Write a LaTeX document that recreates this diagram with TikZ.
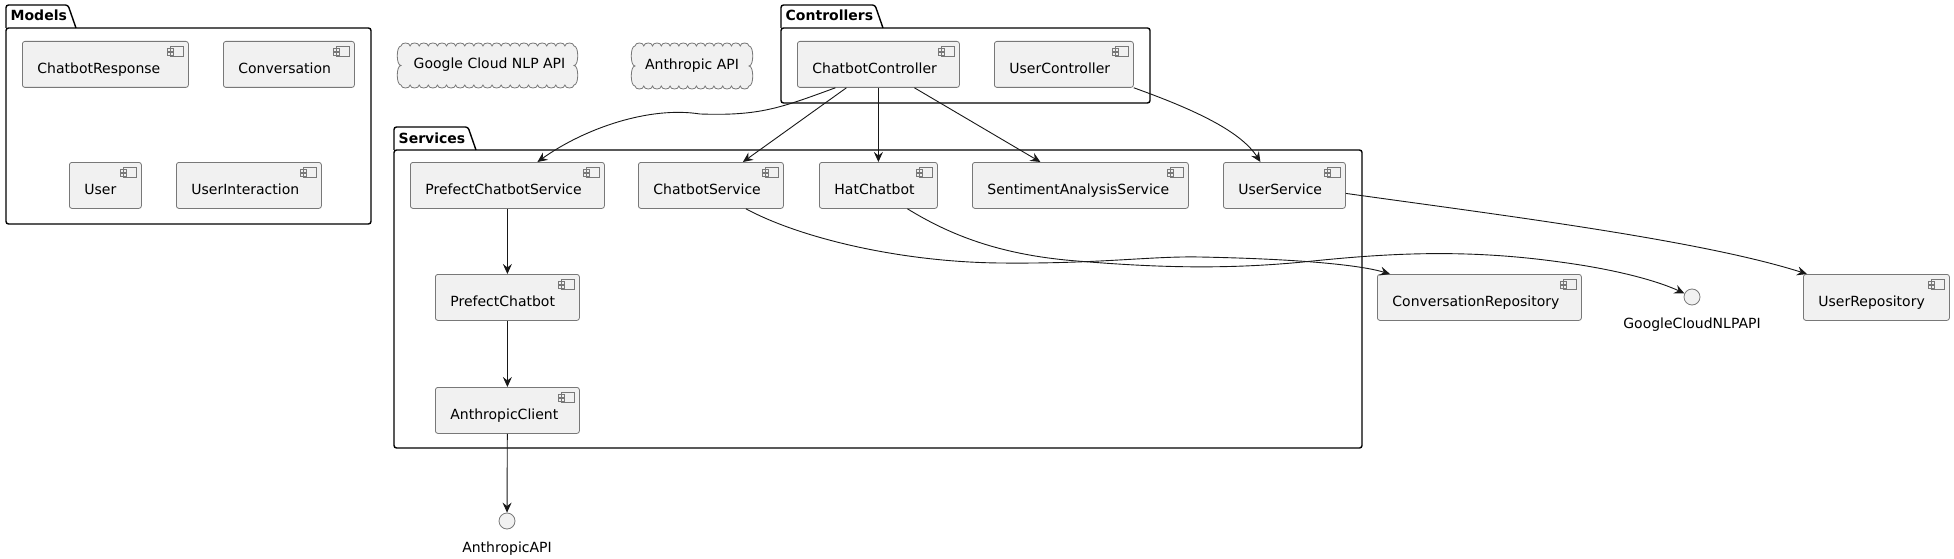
\documentclass[tikz,border=0pt]{standalone}
\usepackage{fontspec}
\setmainfont{DejaVu Sans}
\usetikzlibrary{arrows.meta}
\definecolor{compfill}{RGB}{241,241,241}
\definecolor{compline}{RGB}{120,120,120}
\definecolor{edgeline}{RGB}{24,24,24}

% scalloped cloud outline: x0 y0 x1 y1 bumps
\newcommand{\cloudoutline}[5]{%
  \pgfmathsetmacro\cw{(#3-#1)/#5}%
  \pgfmathsetmacro\ch{(#4-#2)/2}%
  \filldraw[draw=compline, fill=compfill, line width=0.8pt] (#1,#2)
    \foreach \i [evaluate=\i as \xa using #1+(\i-1)*\cw, evaluate=\i as \xb using #1+\i*\cw] in {1,...,#5}
      { .. controls (\xa,#2-4) and (\xb,#2-4) .. (\xb,#2) }
    .. controls (#3+5,#2) and (#3+5,#2+\ch) .. (#3,#2+\ch)
    .. controls (#3+5,#2+\ch) and (#3+5,#4) .. (#3,#4)
    \foreach \i [evaluate=\i as \xa using #3-(\i-1)*\cw, evaluate=\i as \xb using #3-\i*\cw] in {1,...,#5}
      { .. controls (\xa,#4+4) and (\xb,#4+4) .. (\xb,#4) }
    .. controls (#1-5,#4) and (#1-5,#2+\ch) .. (#1,#2+\ch)
    .. controls (#1-5,#2+\ch) and (#1-5,#2) .. (#1,#2) -- cycle;
}

\begin{document}
\begin{tikzpicture}[x=1pt, y=-1pt,
  comp/.style={draw=compline, fill=compfill, rounded corners=2.5pt, line width=0.8pt,
    anchor=north west, minimum height=46pt, inner xsep=15pt, inner ysep=0pt,
    align=left, text height=19pt, text depth=0pt, font=\fontsize{14}{17}\selectfont,
    path picture={
      \draw[compline, line width=0.7pt, sharp corners, fill=compfill]
        ([xshift=-18pt,yshift=-5pt]path picture bounding box.north east) rectangle ++(13pt,-10pt)
        ([xshift=-21pt,yshift=-7pt]path picture bounding box.north east) rectangle ++(6pt,-2.5pt)
        ([xshift=-21pt,yshift=-11pt]path picture bounding box.north east) rectangle ++(6pt,-2.5pt);
    }},
  cloudtext/.style={inner sep=0pt, text height=10pt, text depth=3pt, font=\fontsize{14}{17}\selectfont},
  iface/.style={circle, draw=compline, fill=compfill, line width=0.8pt, minimum size=16pt, inner sep=0pt},
  ifacelabel/.style={anchor=base, inner sep=0pt, font=\fontsize{14}{17}\selectfont},
  pkg/.style={draw=black, line width=1.4pt, rounded corners=2.5pt},
  pkgtitle/.style={anchor=base west, inner sep=0pt, font=\fontsize{14}{17}\selectfont\bfseries},
  edge/.style={draw=edgeline, line width=0.9pt, -{Stealth[length=10pt,width=9pt,inset=3.5pt]}}]

\fill[white] (0,0) rectangle (1954,559);
\useasboundingbox (0,0) rectangle (1954,559);

% packages
\foreach \px/\py/\qx/\qy/\tx/\pname in {6/5/371/224/68/Models, 781/5/1150/103/875/Controllers, 394/127/1362/448/468/Services}{
  \draw[pkg] (\px,\py+23) -- (\px,\py) -- (\tx,\py) -- (\tx+8,\py+23);
  \draw[pkg] (\px,\py+23) rectangle (\qx,\qy);
  \node[pkgtitle] (pkg-\pname) at (\px+4.5,\py+16) {\pname};
}

% Models
\node[comp, text width=136pt] (chatresp) at (22,41) {ChatbotResponse};
\node[comp, text width=101pt] (conv) at (223,41) {Conversation};
\node[comp, text width=42pt] (user) at (69,162) {User};
\node[comp, text width=115pt] (uinter) at (176,162) {UserInteraction};

% clouds
\cloudoutline{401}{46}{574}{85}{19}
\node[cloudtext] (gcloud) at (489.5,65.5) {Google Cloud NLP API};
\cloudoutline{635}{46}{749}{86}{13}
\node[cloudtext] (ancloud) at (692,66) {Anthropic API};

% Controllers
\node[comp, text width=132pt] (chatctl) at (797,41) {ChatbotController};
\node[comp, text width=109pt] (userctl) at (994,41) {UserController};

% Services
\node[comp, text width=164pt] (pcsvc) at (410,162) {PrefectChatbotService};
\node[comp, text width=115pt] (chatsvc) at (638,162) {ChatbotService};
\node[comp, text width=88pt] (hatbot) at (819,162) {HatChatbot};
\node[comp, text width=186pt] (sentsvc) at (972,162) {SentimentAnalysisService};
\node[comp, text width=92pt] (usersvc) at (1223,162) {UserService};
\node[comp, text width=114pt] (pcbot) at (435,274) {PrefectChatbot};
\node[comp, text width=114pt] (anclient) at (435,387) {AnthropicClient};

% outside
\node[comp, text width=174pt] (convrepo) at (1377,274) {ConversationRepository};
\node[comp, text width=116pt] (userrepo) at (1803,274) {UserRepository};
\node[iface] (gcapi) at (1692,297) {};
\node[ifacelabel] (gcapi-lbl) at (1692,328) {GoogleCloudNLPAPI};
\node[iface] (anapi) at (507,521) {};
\node[ifacelabel] (anapi-lbl) at (507,552) {AnthropicAPI};

% connectors
\draw[edge] ([xshift=-43pt]chatctl.south) .. controls (780,108) and (760,116) .. (700,114)
  .. controls (650,106) and (585,128) .. ([xshift=30pt]pcsvc.north);
\draw[edge] ([xshift=-32pt]chatctl.south) -- ([xshift=32pt]chatsvc.north);
\draw[edge] (chatctl.south) -- (hatbot.north);
\draw[edge] ([xshift=36pt]chatctl.south) -- ([xshift=-40pt]sentsvc.north);
\draw[edge] (userctl.south east) .. controls (1190,108) and (1240,130) .. ([xshift=-24pt]usersvc.north);
\draw[edge] ([yshift=-8pt]usersvc.east) .. controls (1500,215) and (1700,240) .. ([xshift=4pt]userrepo.north west);
\draw[edge] ([xshift=35pt]chatsvc.south) .. controls (800,238) and (900,262) .. (1000,263)
  .. controls (1100,264) and (1150,256) .. (1200,257)
  .. controls (1300,259) and (1360,265) .. ([xshift=13pt]convrepo.north west);
\draw[edge] ([xshift=29pt]hatbot.south) .. controls (950,235) and (1000,255) .. (1077,261)
  .. controls (1150,267) and (1220,270) .. (1303,262)
  .. controls (1380,254) and (1460,248) .. (1560,262)
  .. controls (1620,270) and (1660,282) .. (gcapi);
\draw[edge] (pcsvc) -- (pcbot);
\draw[edge] (pcbot) -- (anclient);
\draw[edge] (anclient) -- (anapi);
\end{tikzpicture}
\end{document}
